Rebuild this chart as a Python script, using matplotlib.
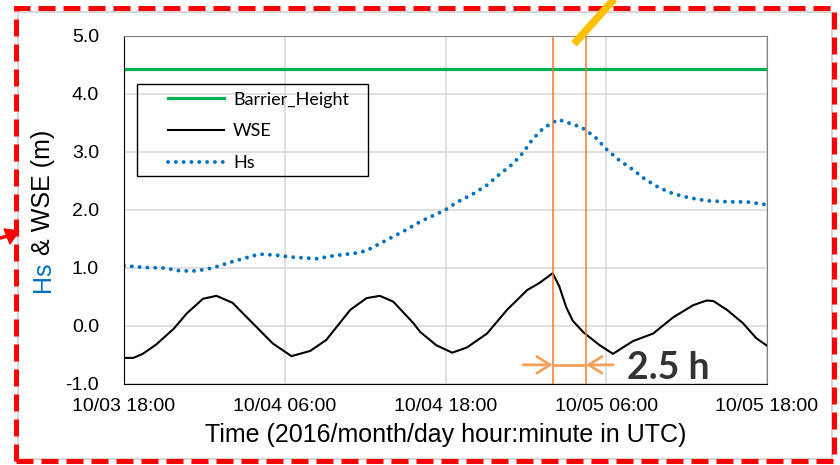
import matplotlib
matplotlib.use("Agg")
import matplotlib.pyplot as plt
import matplotlib.dates as mdates
from matplotlib.patches import Rectangle, Polygon
from matplotlib.lines import Line2D
from datetime import datetime, timedelta

# hours after 2016-10-03 18:00 UTC
hs_hours = [0, 1.5, 3, 4.2, 5.4, 6.6, 8.1, 10.1, 11.4, 12.4, 14.4, 15.6, 17.4, 18.1, 19.6,
            21, 22.2, 23.9, 24.9, 26, 27.1, 28, 29, 29.8, 30.5, 31.3, 32.4, 33.6, 34.2,
            35.2, 36, 36.9, 37.9, 38.9, 39.9, 41, 42.2, 43.5, 45.2, 46.5, 48]
hs = [1.04, 1.01, 1.00, 0.95, 0.95, 1.00, 1.11, 1.24, 1.22, 1.19, 1.16, 1.21, 1.26, 1.30, 1.48,
      1.65, 1.81, 1.99, 2.14, 2.27, 2.43, 2.61, 2.79, 2.99, 3.22, 3.41, 3.56, 3.47, 3.42,
      3.25, 3.05, 2.87, 2.71, 2.53, 2.39, 2.28, 2.21, 2.16, 2.14, 2.14, 2.09]

wse_hours = [0, 0.7, 1.4, 2.4, 3.7, 4.7, 5.9, 6.9, 8.1, 9.6, 11.1, 12.5, 13.9, 15.1, 16.9,
             18.1, 19.1, 20.1, 21.6, 22.1, 23.3, 24.5, 25.6, 27.1, 28.6, 30.1, 31, 32, 32.5,
             33, 33.5, 34.3, 35.5, 36.5, 38, 39.5, 41, 42.5, 43.5, 44, 45, 46.2, 47.2, 48]
wse = [-0.55, -0.55, -0.48, -0.32, -0.05, 0.22, 0.47, 0.52, 0.40, 0.05, -0.30, -0.52, -0.43, -0.24, 0.28,
       0.48, 0.52, 0.42, 0.05, -0.10, -0.33, -0.46, -0.37, -0.13, 0.28, 0.62, 0.74, 0.91, 0.68,
       0.33, 0.09, -0.11, -0.33, -0.48, -0.26, -0.13, 0.15, 0.36, 0.44, 0.43, 0.28, 0.05, -0.21, -0.34]

barrier_height = 4.43
lag_start_h, lag_end_h = 32.0, 34.5   # peak WSE -> 2.5 h later
lag_label = "2.5 h"

start = datetime(2016, 10, 3, 18, 0)
hs_t = [start + timedelta(hours=h) for h in hs_hours]
wse_t = [start + timedelta(hours=h) for h in wse_hours]
t0, t1 = start, start + timedelta(hours=48)

W, H = 840, 465
fig = plt.figure(figsize=(W / 100, H / 100), dpi=100)
ax = fig.add_axes([124 / W, 1 - 384 / H, 643 / W, 348 / H])

ax.plot([t0, t1], [barrier_height] * 2, color="#00B050", lw=2.3, label="Barrier_Height")
ax.plot(wse_t, wse, color="black", lw=1.5, label="WSE")
ax.plot(hs_t, hs, color="#0070C0", lw=2.8, ls=(0, (0.01, 2.0)),
        dash_capstyle="round", label="Hs")

ax.set_xlim(t0, t1)
ax.set_ylim(-1, 5)
ax.set_yticks(range(-1, 6))
ax.yaxis.set_major_formatter(plt.FuncFormatter(lambda v, p: f"{v:.1f}"))
ax.xaxis.set_major_locator(mdates.HourLocator(byhour=[6, 18]))
ax.xaxis.set_major_formatter(mdates.DateFormatter("%m/%d %H:%M"))
ax.tick_params(length=0, labelsize=14)
ax.tick_params(axis="x", pad=10)
ax.tick_params(axis="y", pad=18)
for lab in ax.get_xticklabels() + ax.get_yticklabels():
    lab.set_fontfamily("Liberation Sans")
ax.grid(color="#D9D9D9", lw=1.2)
ax.set_axisbelow(True)
for s in ("top", "right"):
    ax.spines[s].set_color("#808080")
for s in ("left", "bottom"):
    ax.spines[s].set_color("black")

ax.set_xlabel("Time (2016/month/day hour:minute in UTC)", fontsize=18,
              family="Liberation Sans", labelpad=6)

# lag markers
ls_t = start + timedelta(hours=lag_start_h)
le_t = start + timedelta(hours=lag_end_h)
ax.axvline(ls_t, color="#ED7D31", lw=1.1)
ax.axvline(le_t, color="#ED7D31", lw=1.1)
orange = "#F4A15E"
arr = dict(arrowstyle="->,head_length=0.95,head_width=0.6", color=orange, lw=2,
           shrinkA=0, shrinkB=0, mutation_scale=10)
ax.annotate("", xy=(ls_t, -0.67), xytext=(start + timedelta(hours=29.8), -0.67), arrowprops=arr)
ax.annotate("", xy=(le_t, -0.67), xytext=(start + timedelta(hours=36.5), -0.67), arrowprops=arr)
ax.plot([ls_t, le_t], [-0.67, -0.67], color=orange, lw=2)
ax.text(start + timedelta(hours=37.55), -0.72, lag_label, fontsize=27, fontweight="bold",
        family="Lato", color="#333333", ha="left", va="center")

# legend with a hand-drawn frame
leg = ax.legend(loc="upper left", bbox_to_anchor=(0.0684, 0.84), frameon=False,
                borderpad=0, borderaxespad=0, handlelength=3.1, handletextpad=0.5,
                labelspacing=0.87, prop={"family": "Lato", "size": 13})
ax.add_patch(Rectangle((13 / 643, 208 / 348), 231 / 643, 92 / 348, transform=ax.transAxes,
                       fill=False, ec="black", lw=1, zorder=5))

# y label, "Hs" in blue
fig.canvas.draw()
r = fig.canvas.get_renderer()
yb = 1 - 292 / H
t_hs = fig.text(43 / W, yb, "Hs", rotation=90, color="#0070C0", fontsize=18,
                family="Liberation Sans", ha="center", va="bottom")
bb = t_hs.get_window_extent(r)
fig.text(43 / W, yb + bb.height / H, " & WSE (m)", rotation=90, color="black", fontsize=18,
         family="Liberation Sans", ha="center", va="bottom")

# slide decorations: red dashed frame, small red arrow, yellow pointer
fig.add_artist(Rectangle((18 / W, 1 - 459 / H), 814 / W, 447 / H, transform=fig.transFigure,
                         fill=False, ec="#D0D0D0", lw=1.2))
fig.add_artist(Rectangle((16 / W, 1 - 461 / H), 818 / W, 452.5 / H, transform=fig.transFigure,
                         fill=False, ec="#FF0000", lw=3.6, ls=(0, (3.4, 1.6))))
fig.add_artist(Polygon([(4 / W, 1 - 229 / H), (19 / W, 1 - 231 / H), (10 / W, 1 - 244 / H)],
                       closed=True, transform=fig.transFigure, color="#FF0000"))
fig.add_artist(Line2D([0, 8 / W], [1 - 238 / H, 1 - 236 / H], transform=fig.transFigure,
                      color="#FF0000", lw=2.5))
fig.add_artist(Line2D([574 / W, 616 / W], [1 - 44 / H, 1 + 3 / H], transform=fig.transFigure,
                      color="#FFC000", lw=5.5, solid_capstyle="butt"))

fig.savefig("out.png", dpi=100)
